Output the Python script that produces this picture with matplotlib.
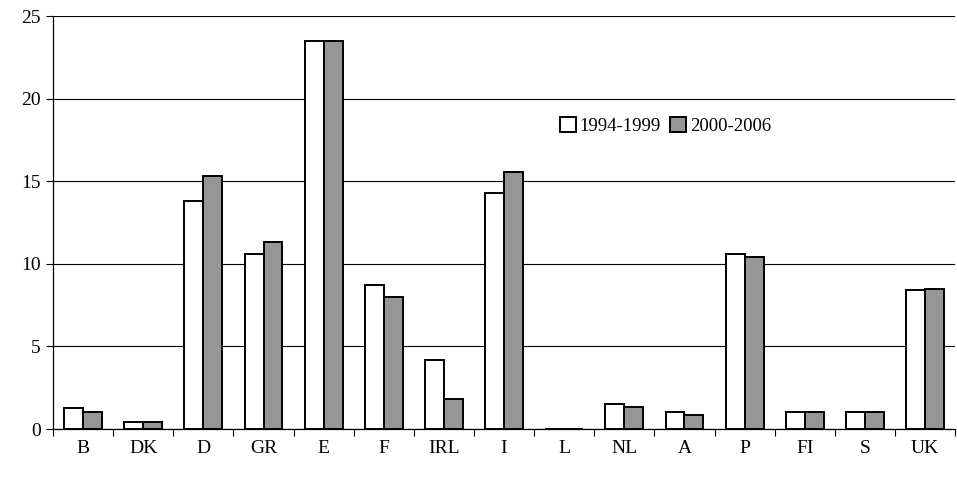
import matplotlib
matplotlib.use('Agg')
import matplotlib.pyplot as plt
import numpy as np

# 数据
countries = ['B', 'DK', 'D', 'GR', 'E', 'F', 'IRL', 'I', 'L', 'NL', 'A', 'P', 'FI', 'S', 'UK']
p1994 = [1.25, 0.4, 13.8, 10.6, 23.5, 8.7, 4.2, 14.3, 0.0, 1.5, 1.0, 10.6, 1.0, 1.0, 8.4]
p2000 = [1.0, 0.4, 15.3, 11.3, 23.5, 8.0, 1.8, 15.55, 0.0, 1.35, 0.85, 10.4, 1.0, 1.0, 8.5]
series_labels = ['1994-1999', '2000-2006']

plt.rcParams['font.family'] = ['Liberation Serif', 'DejaVu Serif']

fig = plt.figure(figsize=(9.57, 4.78), dpi=100)
ax = fig.add_axes([0.0554, 0.1025, 0.9426, 0.864])

x = np.arange(len(countries))
w = 0.315
b1 = ax.bar(x - w / 2, p1994, w, color='white', edgecolor='black', linewidth=1.4,
            label=series_labels[0], zorder=3)
b2 = ax.bar(x + w / 2, p2000, w, color='#969696', edgecolor='black', linewidth=1.4,
            label=series_labels[1], zorder=3)

ax.set_xlim(-0.5, len(countries) - 0.5)
ax.set_ylim(0, 25)
ax.set_yticks([0, 5, 10, 15, 20, 25])
ax.yaxis.grid(True, color='black', linewidth=0.8, zorder=0)

# 类别之间的刻度线
ax.set_xticks(np.arange(len(countries) + 1) - 0.5)
ax.set_xticklabels([])
ax.set_xticks(x, minor=True)
ax.set_xticklabels(countries, minor=True)
ax.tick_params(axis='x', which='major', direction='out', length=5, width=0.8)
ax.tick_params(axis='x', which='minor', length=0, pad=8, labelsize=14)
ax.tick_params(axis='y', direction='out', length=5, width=0.8, labelsize=14, pad=4)

ax.spines['top'].set_visible(False)
ax.spines['right'].set_visible(False)
ax.spines['left'].set_linewidth(0.9)
ax.spines['bottom'].set_linewidth(0.9)

fig.legend(handles=[b1, b2], loc='center left', bbox_to_anchor=(0.575, 0.737),
           ncol=2, frameon=False, fontsize=13.5, handlelength=0.85, handleheight=0.85,
           handletextpad=0.2, columnspacing=0.5, borderpad=0)

plt.savefig('out.png', dpi=100)
